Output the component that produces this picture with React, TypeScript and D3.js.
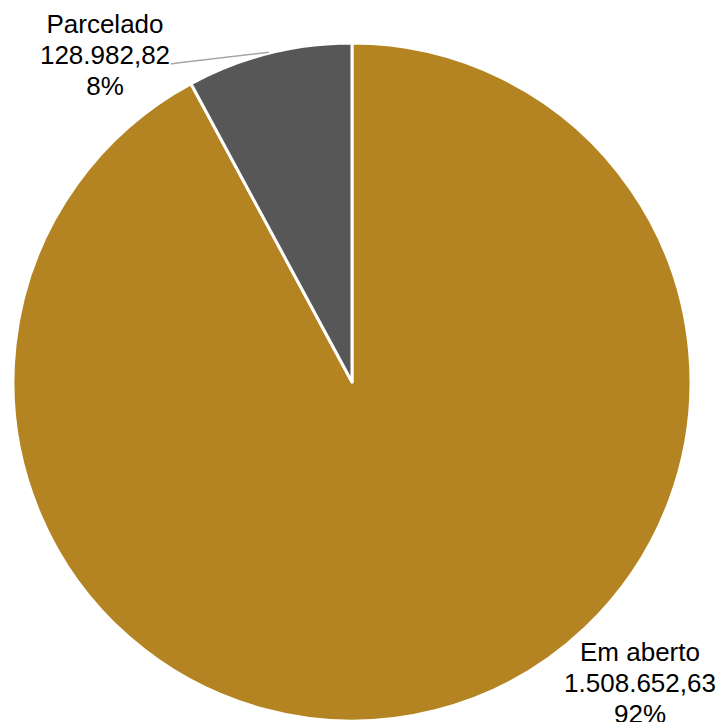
import React from "react";
import * as d3 from "d3";

const categories = ["Em aberto", "Parcelado"];
const values = [1508652.63, 128982.82];
const valueLabels = ["1.508.652,63", "128.982,82"];
const percentLabels = ["92%", "8%"];
const colors = ["#B48422", "#575757"];

const W = 723;
const H = 722;
const cx = 352;
const cy = 382;
const R = 339;

export default function App() {
  const pie = d3.pie<number>().sort(null).value((d) => d);
  const arcs = pie(values);
  const arcGen = d3.arc<d3.PieArcDatum<number>>().innerRadius(0).outerRadius(R);

  const mid = (a: d3.PieArcDatum<number>) => (a.startAngle + a.endAngle) / 2;
  const pt = (ang: number, r: number) => [Math.sin(ang) * r, -Math.cos(ang) * r];

  // Parcelado label
  const pA = arcs[1];
  const [lx0, ly0] = pt(mid(pA), R + 1);
  const leaderEnd = [cx - 175, cy - 319];
  const pLabelX = cx - 247;
  const pLabelY = cy - 349;

  // Em aberto label
  const eLabelX = cx + 288;
  const eLabelY = cy + 279;

  const fontSize = 26;
  const lh = 31;

  return (
    <svg
      width={W}
      height={H}
      style={{ position: "absolute", left: 0, top: 0, display: "block" }}
      fontFamily="'Liberation Sans', Arial, sans-serif"
    >
      <rect width={W} height={H} fill="#fff" />
      <g transform={`translate(${cx},${cy})`}>
        {arcs.map((a, i) => (
          <path key={i} d={arcGen(a) || ""} fill={colors[i]} stroke="#fff" strokeWidth={3} strokeLinejoin="round" />
        ))}
      </g>
      <polyline
        points={`${cx + lx0},${cy + ly0} ${leaderEnd[0]},${leaderEnd[1]} ${leaderEnd[0] - 6},${leaderEnd[1] + 1}`}
        fill="none"
        stroke="#a6a6a6"
        strokeWidth={1.5}
      />
      <text x={pLabelX} y={pLabelY} textAnchor="middle" fontSize={fontSize} fill="#000">
        <tspan x={pLabelX} dy={0}>{categories[1]}</tspan>
        <tspan x={pLabelX} dy={lh}>{valueLabels[1]}</tspan>
        <tspan x={pLabelX} dy={lh}>{percentLabels[1]}</tspan>
      </text>
      <text x={eLabelX} y={eLabelY} textAnchor="middle" fontSize={fontSize} fill="#000">
        <tspan x={eLabelX} dy={0}>{categories[0]}</tspan>
        <tspan x={eLabelX} dy={lh}>{valueLabels[0]}</tspan>
        <tspan x={eLabelX} dy={lh}>{percentLabels[0]}</tspan>
      </text>
    </svg>
  );
}
